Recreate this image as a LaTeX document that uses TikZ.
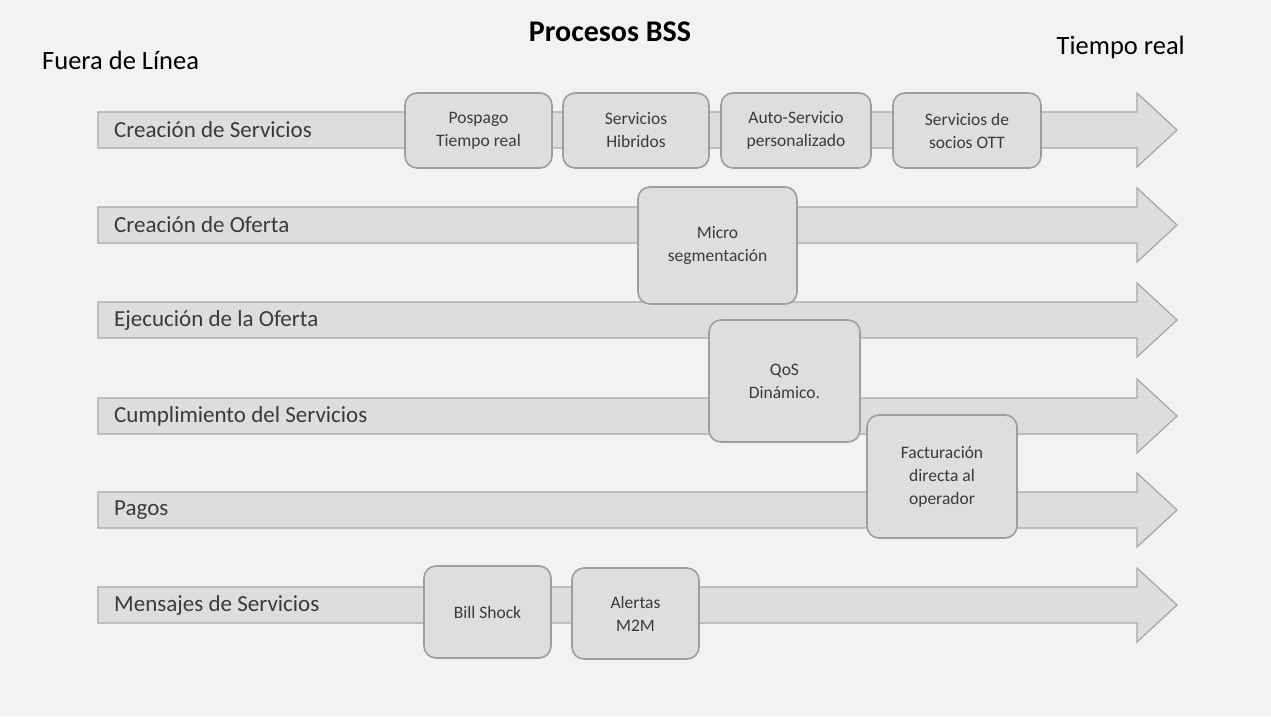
\documentclass[tikz,border=0pt]{standalone}
\usepackage{fontspec}
\setmainfont{Carlito}
\begin{document}
\definecolor{bgc}{HTML}{F2F2F2}
\definecolor{arrowfill}{HTML}{DDDDDD}
\definecolor{arrowline}{HTML}{A8A8A8}
\definecolor{boxfill}{HTML}{DEDEDE}
\definecolor{boxline}{HTML}{9E9E9E}
\definecolor{txt}{HTML}{3A3A3A}
\begin{tikzpicture}[x=1pt,y=-1pt,
  lanearrow/.style={fill=arrowfill,draw=arrowline,line width=1.3pt,line join=miter},
  lanelabel/.style={anchor=west,inner sep=0pt,text=txt,font=\fontsize{23}{26}\selectfont},
  stepbox/.style={draw=boxline,fill=boxfill,line width=1.6pt,rounded corners=12pt,
    align=center,text=txt,font=\fontsize{17.5}{23}\selectfont,inner sep=2pt},
  header/.style={inner sep=0pt,text=black,font=\fontsize{26.5}{30}\selectfont}]
% canvas
\path[fill=bgc] (0,0) rectangle (1271,716);
\useasboundingbox (0,0) rectangle (1271,716);
% headings
\node[header,font=\fontsize{30}{34}\selectfont\bfseries] (title) at (610,32) {Procesos BSS};
\node[header,anchor=west] (offline) at (42,60) {Fuera de Línea};
\node[header,anchor=east] (realtime) at (1185,47) {Tiempo real};
% process lanes
\foreach \c/\n/\t in {130/l1/Creación de Servicios,
                        225/l2/Creación de Oferta,
                        320/l3/Ejecución de la Oferta,
                        416/l4/Cumplimiento del Servicios,
                        510/l5/Pagos,
                        605/l6/Mensajes de Servicios}{
  \draw[lanearrow] (98,\c-18) -- (1137,\c-18) -- (1137,\c-37) -- (1177,\c)
    -- (1137,\c+37) -- (1137,\c+18) -- (98,\c+18) -- cycle;
  \node[lanelabel] (\n) at (114,\c) {\t};
}
% steps on the lanes
\node[stepbox,minimum width=147pt,minimum height=75pt] (pospago) at (478.5,130.5) {Pospago\\Tiempo real};
\node[stepbox,minimum width=146pt,minimum height=75pt] (hibridos) at (636,130.5) {Servicios\\Hibridos};
\node[stepbox,minimum width=150pt,minimum height=75pt] (auto) at (796,130.5) {Auto-Servicio\\personalizado};
\node[stepbox,minimum width=148pt,minimum height=75pt] (ott) at (967,130.5) {Servicios de\\socios OTT};
\node[stepbox,minimum width=159pt,minimum height=117pt] (micro) at (717.5,245.5) {Micro\\segmentación};
\node[stepbox,minimum width=151pt,minimum height=122pt] (qos) at (784.5,381) {QoS\\Dinámico.};
\node[stepbox,minimum width=150pt,minimum height=123pt] (fact) at (942,476.5) {Facturación\\directa al\\operador};
\node[stepbox,minimum width=127pt,minimum height=92pt] (bill) at (487.5,612) {Bill Shock};
\node[stepbox,minimum width=127pt,minimum height=91pt] (m2m) at (635.5,613.5) {Alertas\\M2M};
\end{tikzpicture}
\end{document}
